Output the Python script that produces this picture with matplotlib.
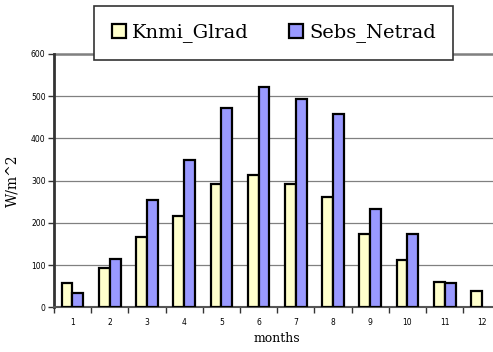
import numpy as np
from matplotlib import pyplot as plt

months = ["1", "2", "3", "4", "5", "6", "7", "8", "9", "10", "11", "12"]
knmi_glrad = [58, 93, 167, 217, 293, 313, 292, 261, 174, 112, 59, 38]
sebs_netrad = [35, 114, 255, 348, 472, 522, 493, 459, 233, 174, 57, 0]

fig = plt.figure(figsize=(4.93, 3.52), dpi=100)
ax = fig.add_axes([0.1093, 0.127, 0.906, 0.7196])

x = np.arange(len(months))
w = 0.29
b1 = ax.bar(x - w / 2, knmi_glrad, w, color="#FFFFCC", edgecolor="black", linewidth=1.6,
            label="Knmi_Glrad", zorder=3)
b2 = ax.bar(x + w / 2, sebs_netrad, w, color="#9999FF", edgecolor="black", linewidth=1.6,
            label="Sebs_Netrad", zorder=3)
# empty december value not drawn
b2[-1].set_visible(False)

ax.set_xlim(-0.5, 11.5)
ax.set_ylim(0, 600)
ax.set_yticks(range(0, 601, 100))
ax.yaxis.grid(True, color="#808080", linewidth=0.9, zorder=0)

# ticks between months, labels at the centres
ax.set_xticks(np.arange(-0.5, 12, 1))
ax.set_xticklabels([])
ax.set_xticks(x, minor=True)
ax.set_xticklabels(months, minor=True)
ax.tick_params(axis="x", which="major", length=4, width=1, color="#333333", direction="out")
ax.tick_params(axis="x", which="minor", length=0, pad=8, labelsize=5.5)
ax.tick_params(axis="y", length=4, width=1, color="#333333", labelsize=5.5, pad=2)

for s in ["top", "right"]:
    ax.spines[s].set_visible(False)
ax.spines["left"].set_linewidth(2)
ax.spines["left"].set_color("#333333")
ax.spines["bottom"].set_linewidth(1.5)
ax.spines["bottom"].set_color("#555555")
ax.axhline(600, color="#808080", linewidth=1.8, zorder=1, clip_on=False)

ax.set_ylabel("W/m^2", family="DejaVu Serif", fontsize=10, labelpad=8)
ax.set_xlabel("months", family="DejaVu Serif", fontsize=9, labelpad=3)

leg = fig.legend(handles=[b1, b2], loc="upper left", bbox_to_anchor=(0.1913, 0.983),
                 ncol=2, frameon=True, fancybox=False, shadow=False, framealpha=1,
                 prop={"family": "DejaVu Serif", "size": 14},
                 handlelength=0.72, handleheight=0.72, handletextpad=0.3,
                 columnspacing=2.1, borderpad=0.9, borderaxespad=0)
leg.get_frame().set_edgecolor("#333333")
leg.get_frame().set_linewidth(1.2)
leg.set_zorder(5)

plt.savefig("out.png", dpi=100)
